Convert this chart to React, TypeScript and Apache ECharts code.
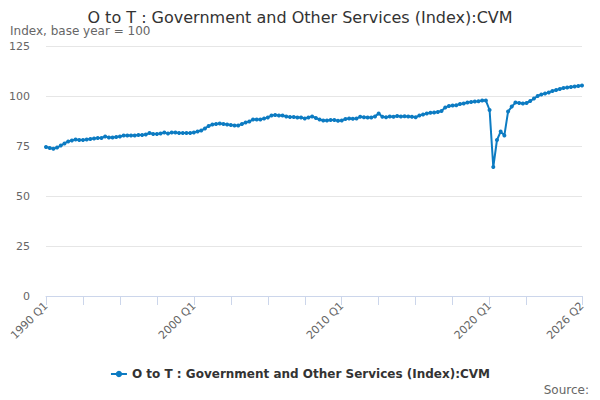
import React, { useEffect, useRef } from "react";
import * as echarts from "echarts";

const TITLE = "O to T : Government and Other Services (Index):CVM";
const SERIES_NAME = "O to T : Government and Other Services (Index):CVM";
const Y_AXIS_NAME = "Index, base year = 100";

const START_YEAR = 1990;
const END_YEAR = 2026;
const END_QUARTER = 2;

const categories: string[] = [];
for (let y = START_YEAR; y <= END_YEAR; y++) {
  for (let q = 1; q <= 4; q++) {
    if (y === END_YEAR && q > END_QUARTER) break;
    categories.push(`${y} Q${q}`);
  }
}

const values1990s = [
  74.5, 74.0, 73.6, 74.2, 75.2, 76.3, 77.3, 77.8, 78.3, 78.0, 78.0, 78.2, 78.5, 78.8,
  79.0, 79.0, 79.8, 79.3, 79.2, 79.5, 79.8, 80.2, 80.3, 80.3, 80.3, 80.5, 80.5, 80.7,
  81.5, 81.0, 81.0, 81.2, 81.8, 81.2, 81.8, 81.7, 81.5, 81.5, 81.5, 81.5, 81.8, 82.3,
];
const values2000s = [
  82.7, 83.8, 85.0, 85.7, 86.0, 86.2, 86.0, 85.7, 85.5, 85.3, 85.3, 86.0, 86.7, 87.3,
  88.2, 88.3, 88.3, 88.7, 89.3, 90.2, 90.5, 90.3, 90.3, 89.8, 89.5, 89.5, 89.3, 89.2,
  88.8, 89.3, 89.8, 89.0, 88.2, 87.8,
];
const values2010s = [
  87.8, 88.0, 88.0, 87.6, 87.8, 88.5, 88.7, 88.6, 88.8, 89.6, 89.4, 89.2, 89.3, 89.8,
  91.2, 89.6, 89.4, 89.8, 89.6, 90.0, 89.8, 89.9, 89.8, 89.6, 89.4, 90.2, 90.8, 91.3,
  91.6, 91.7, 92.0, 92.5, 94.3, 95.0, 95.2, 95.4, 96.0, 96.3, 96.7, 97.0, 97.2, 97.4,
  97.8, 97.7,
];
const values2020s = [
  93.0, 64.5, 78.0, 82.2, 80.3, 92.2, 94.7, 96.7, 96.5, 96.2, 96.5, 97.5, 98.7, 100.0,
  100.8, 101.2, 101.8, 102.5, 103.0, 103.5, 104.0, 104.2, 104.5, 104.8, 105.0, 105.3,
];
const seriesValues = [...values1990s, ...values2000s, ...values2010s, ...values2020s];

const yTicks = [0, 25, 50, 75, 100, 125];

const FONT = "DejaVu Sans";

export default function App() {
  const ref = useRef<HTMLDivElement>(null);
  useEffect(() => {
    if (!ref.current) return;
    const chart = echarts.init(ref.current, undefined, { renderer: "svg" });
    const last = categories.length - 1;
    chart.setOption({
      animation: false,
      textStyle: { fontFamily: FONT },
      title: [
        {
          text: TITLE,
          left: "center",
          top: 9,
          padding: 0,
          textStyle: {
            fontFamily: FONT,
            fontSize: 16,
            lineHeight: 16,
            fontWeight: "normal",
            color: "#333333",
          },
        },
        {
          text: Y_AXIS_NAME,
          left: 10,
          top: 25,
          padding: 0,
          textStyle: {
            fontFamily: FONT,
            fontSize: 12,
            lineHeight: 12,
            fontWeight: "normal",
            color: "#666666",
          },
        },
        {
          text: "Source:",
          right: 6,
          top: 379,
          textStyle: { fontFamily: FONT, fontSize: 12, fontWeight: "normal", color: "#666666" },
        },
      ],
      legend: {
        data: [SERIES_NAME],
        left: "center",
        top: 363,
        itemWidth: 16,
        itemHeight: 8,
        itemGap: 6,
        textStyle: { fontFamily: FONT, fontSize: 12, fontWeight: "bold", color: "#333333" },
      },
      grid: { left: 46, right: 18, top: 46, bottom: 104, containLabel: false },
      xAxis: {
        type: "category",
        data: categories,
        boundaryGap: false,
        axisLine: { lineStyle: { color: "#ccd6eb", width: 1 } },
        axisTick: {
          show: true,
          length: 9,
          lineStyle: { color: "#ccd6eb" },
          interval: (i: number) => (i % 10 === 0 && i !== 140) || i === last,
        },
        axisLabel: {
          rotate: 45,
          fontFamily: FONT,
          fontSize: 11,
          color: "#666666",
          margin: 8,
          interval: (i: number) => i % 40 === 0 || i === last,
        },
        splitLine: { show: false },
      },
      yAxis: {
        type: "value",
        min: yTicks[0],
        max: yTicks[yTicks.length - 1],
        interval: 25,
        axisLine: { show: false },
        axisTick: { show: false },
        axisLabel: { fontFamily: FONT, fontSize: 11, color: "#666666", margin: 16 },
        splitLine: { lineStyle: { color: "#e6e6e6", width: 1 } },
      },
      series: [
        {
          name: SERIES_NAME,
          type: "line",
          data: seriesValues,
          symbol: "circle",
          symbolSize: 4,
          showSymbol: true,
          showAllSymbol: true,
          lineStyle: { color: "#0c7bc2", width: 2 },
          itemStyle: { color: "#0c7bc2" },
        },
      ],
    });
    return () => chart.dispose();
  }, []);
  return (
    <div
      ref={ref}
      style={{ position: "absolute", left: 0, top: 0, width: 600, height: 400 }}
    />
  );
}
